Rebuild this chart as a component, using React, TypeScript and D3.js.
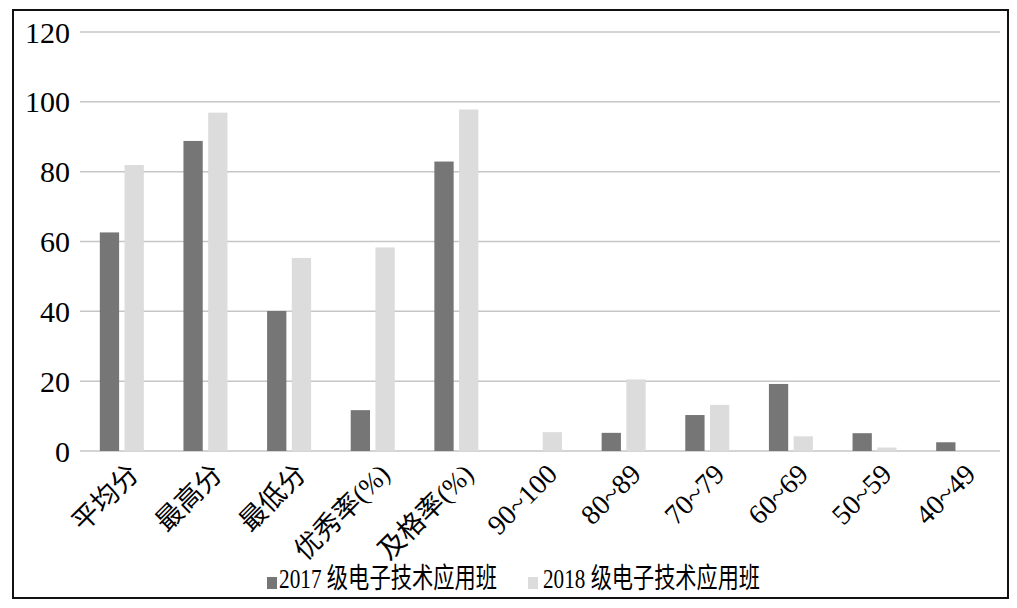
import React from "react";
import * as d3 from "d3";

const categories = ["平均分", "最高分", "最低分", "优秀率(%)", "及格率(%)", "90~100", "80~89", "70~79", "60~69", "50~59", "40~49"];
const series = ["2017 级电子技术应用班", "2018 级电子技术应用班"];
const values2017 = [62.6, 88.8, 40.1, 11.7, 82.9, 0, 5.2, 10.3, 19.2, 5.1, 2.5];
const values2018 = [81.9, 96.9, 55.3, 58.3, 97.8, 5.4, 20.5, 13.2, 4.2, 1.0, 0];
const yTicks = [0, 20, 40, 60, 80, 100, 120];
const colors = ["#767676", "#dcdcdc"];

const W = 1017;
const H = 608;
const serif = "'Liberation Serif', 'Times New Roman', 'Noto Sans CJK SC', serif";
const cjk = "'Liberation Serif', 'Noto Sans CJK SC', serif";

export default function App() {
  const x0 = d3.scaleBand<string>().domain(categories).range([80, 1000]).paddingInner(0).paddingOuter(0);
  const y = d3.scaleLinear().domain([0, 120]).range([451, 32]);
  const x1 = d3.scaleBand<string>().domain(series).range([-22, 22]).paddingInner(0.22);
  const data = [values2017, values2018];

  return (
    <svg width={W} height={H} style={{ position: "absolute", left: 0, top: 0, background: "#fff" }}>
      <rect x={0} y={0} width={W} height={H} fill="#fff" />
      <rect x={13} y={10} width={995} height={588} fill="none" stroke="#111" strokeWidth={2} />
      {yTicks.map((t) => (
        <g key={t}>
          <line x1={80} x2={1000} y1={y(t)} y2={y(t)} stroke="#c6c6c6" strokeWidth={1.5} />
          <text x={70} y={y(t)} dy="0.35em" textAnchor="end" fontFamily={serif} fontSize={30} fill="#000">
            {t}
          </text>
        </g>
      ))}
      {categories.map((c, i) => {
        const cx = (x0(c) as number) + x0.bandwidth() / 2;
        const numeric = /^\d/.test(c);
        return (
          <g key={c}>
            {series.map((s, j) => {
              const v = data[j][i];
              if (!v) return null;
              return (
                <rect
                  key={s}
                  x={cx + (x1(s) as number)}
                  y={y(v)}
                  width={x1.bandwidth()}
                  height={y(0) - y(v)}
                  fill={colors[j]}
                />
              );
            })}
            <text
              transform={`translate(${cx + 12},${469}) rotate(-45)`}
              textAnchor="end"
              dy="0.35em"
              fontFamily={cjk}
              fontSize={numeric ? 28 : 27}
              fill="#000"
            >
              {c}
            </text>
          </g>
        );
      })}
      {/* legend */}
      <rect x={267} y={577} width={10} height={12} fill={colors[0]} />
      <text x={279} y={588} fontFamily={cjk} fontSize={28} textLength={218} lengthAdjust="spacingAndGlyphs" fill="#000">
        {series[0]}
      </text>
      <rect x={528} y={577} width={10} height={12} fill={colors[1]} />
      <text x={543} y={588} fontFamily={cjk} fontSize={28} textLength={217} lengthAdjust="spacingAndGlyphs" fill="#000">
        {series[1]}
      </text>
    </svg>
  );
}
